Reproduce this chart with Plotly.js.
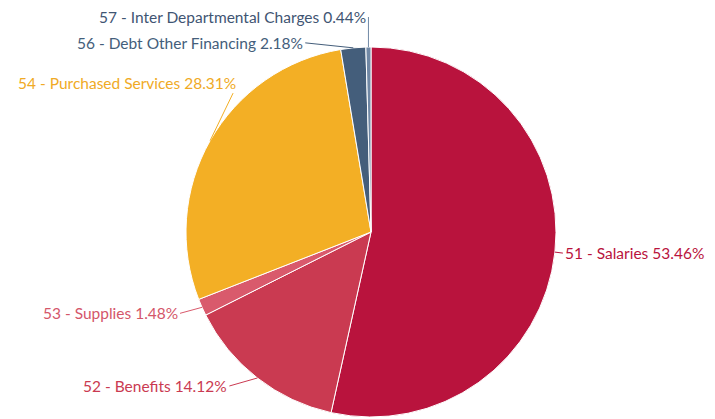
<!DOCTYPE html>
<html>
<head>
<meta charset="utf-8">
<script src="https://cdn.plot.ly/plotly-3.0.1.min.js"></script>
<style>html,body{margin:0;padding:0;background:#fff;}#chart{width:715px;height:419px;}</style>
</head>
<body>
<div id="chart"></div>
<script>
const categories = ["51 - Salaries", "52 - Benefits", "53 - Supplies", "54 - Purchased Services", "56 - Debt Other Financing", "57 - Inter Departmental Charges"];
const percents = [53.46, 14.12, 1.48, 28.31, 2.18, 0.44];
const colors = ["#B9133D", "#CA3A51", "#D95A6C", "#F3AF25", "#445E7B", "#7088A5"];
const labelColors = ["#B9133D", "#CA3A51", "#D4566A", "#F0AA25", "#445E7B", "#3F5573"];

const W = 715, H = 419;
const cx = 371, cy = 232, R = 185;
// label text offsets (pixels) from slice edge point, and anchors
const labelStyle = [
  {ax: 8, ay: 1, xanchor: "left"},
  {ax: -28, ay: 8, xanchor: "right"},
  {ax: -22, ay: 6, xanchor: "right"},
  {ax: 28, ay: -58, xanchor: "right"},
  {ax: -48, ay: -5, xanchor: "right"},
  {ax: 0, ay: -30, xanchor: "right"}
];

const total = percents.reduce((a, b) => a + b, 0);
let cum = 0;
const annotations = categories.map((c, i) => {
  const mid = (cum + percents[i] / 2) / total;
  cum += percents[i];
  const th = mid * 2 * Math.PI;
  const px = cx + R * Math.sin(th);
  const py = cy - R * Math.cos(th);
  const s = labelStyle[i];
  return {
    x: px / W, y: 1 - py / H, xref: "paper", yref: "paper",
    text: c + " " + percents[i].toFixed(2) + "%",
    showarrow: true, arrowhead: 0, arrowwidth: 1, arrowcolor: colors[i],
    ax: s.ax, ay: s.ay, xanchor: s.xanchor, yanchor: "middle",
    font: {family: "Lato, sans-serif", size: 15.5, color: labelColors[i]},
    standoff: 0, startstandoff: 0
  };
});

const trace = {
  type: "pie",
  labels: categories,
  values: percents,
  sort: false,
  direction: "clockwise",
  rotation: 0,
  textinfo: "none",
  hoverinfo: "label+percent",
  marker: {colors: colors, line: {color: "#ffffff", width: 1}},
  domain: {x: [(cx - R) / W, (cx + R) / W], y: [(H - cy - R) / H, (H - cy + R) / H]},
  showlegend: false
};

const layout = {
  width: W, height: H,
  margin: {l: 0, r: 0, t: 0, b: 0},
  paper_bgcolor: "#ffffff",
  showlegend: false,
  annotations: annotations
};

Plotly.newPlot("chart", [trace], layout, {displayModeBar: false, staticPlot: true});
</script>
</body>
</html>
